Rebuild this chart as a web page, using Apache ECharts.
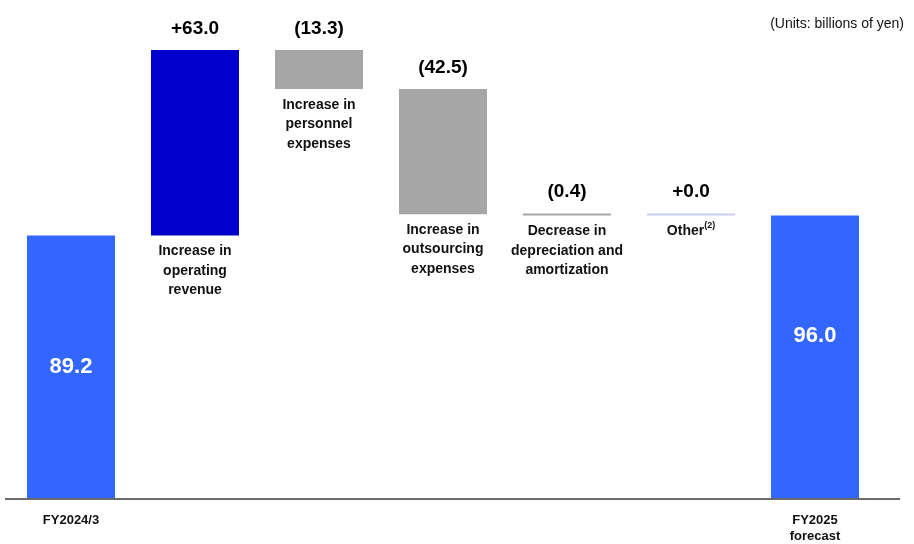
<!DOCTYPE html>
<html>
<head>
<meta charset="utf-8">
<script src="https://cdn.jsdelivr.net/npm/echarts@6/dist/echarts.min.js"></script>
<style>
  html, body { margin: 0; padding: 0; background: #fff; }
  #main { width: 914px; height: 544px; }
</style>
</head>
<body>
<div id="main"></div>
<script>
// chart data
const categories = [
  'FY2024/3',
  'Increase in\noperating\nrevenue',
  'Increase in\npersonnel\nexpenses',
  'Increase in\noutsourcing\nexpenses',
  'Decrease in\ndepreciation and\namortization',
  'Other{sup|(2)}',
  'FY2025\nforecast'
];
const startValue = 89.2;
const changes = [63.0, -13.3, -42.5, -0.4, 0.0];
const endValue = 96.0;
const valueLabels = ['89.2', '+63.0', '(13.3)', '(42.5)', '(0.4)', '+0.0', '96.0'];

const TOTAL_COLOR = '#3366FF';
const UP_COLOR = '#0000CC';
const DOWN_COLOR = '#A6A6A6';
const ZERO_COLOR = '#CCCCF2';

// build invisible base + visible step for the waterfall
const baseData = [];
const stepData = [];
let running = startValue;
baseData.push({ value: 0, label: { show: false } });
stepData.push({ value: startValue, itemStyle: { color: TOTAL_COLOR } });
changes.forEach(function (c) {
  let base, color;
  if (c > 0) {
    base = running; color = UP_COLOR;
  } else if (c < 0) {
    base = running + c; color = DOWN_COLOR;
  } else {
    base = running; color = ZERO_COLOR;
  }
  running += c;
  baseData.push({ value: base });
  stepData.push({ value: Math.abs(c), itemStyle: { color: color } });
});
baseData.push({ value: 0, label: { show: false } });
stepData.push({ value: endValue, itemStyle: { color: TOTAL_COLOR } });

const last = categories.length - 1;
stepData[0].label = { position: 'inside', color: '#fff', fontSize: 22 };
stepData[last].label = { position: 'inside', color: '#fff', fontSize: 22, offset: [0, -21] };

const chart = echarts.init(document.getElementById('main'));
chart.setOption({
  animation: false,
  textStyle: { fontFamily: 'Liberation Sans, Arial, sans-serif' },
  title: {
    text: '(Units: billions of yen)',
    right: 5,
    top: 12,
    textStyle: { fontSize: 14, fontWeight: 'normal', color: '#111' }
  },
  grid: { left: 9, right: 37, top: 27, bottom: 45 },
  xAxis: {
    type: 'category',
    data: categories,
    axisLine: { show: false },
    axisTick: { show: false },
    axisLabel: {
      interval: 0,
      margin: 14,
      fontSize: 13,
      fontWeight: 'bold',
      lineHeight: 16,
      color: '#111',
      formatter: function (v, i) {
        return (i === 0 || i === last) ? v : '';
      }
    }
  },
  yAxis: {
    type: 'value',
    min: 0,
    max: 160,
    show: false,
    splitLine: { show: false }
  },
  graphic: [{
    type: 'line',
    shape: { x1: 5, y1: 499, x2: 900, y2: 499 },
    style: { stroke: '#3a3a3a', lineWidth: 1.5 },
    z: 10
  }],
  series: [
    {
      name: 'base',
      type: 'bar',
      stack: 'w',
      barWidth: 88,
      itemStyle: { color: 'transparent' },
      silent: true,
      label: {
        show: true,
        position: 'insideTop',
        distance: 6,
        fontSize: 14,
        fontWeight: 'bold',
        lineHeight: 19.5,
        color: '#111',
        formatter: function (p) { return categories[p.dataIndex]; },
        rich: {
          sup: { fontSize: 9, fontWeight: 'bold', verticalAlign: 'top', lineHeight: 12, color: '#111' }
        }
      },
      data: baseData
    },
    {
      name: 'step',
      type: 'bar',
      stack: 'w',
      barWidth: 88,
      barMinHeight: 2,
      label: {
        show: true,
        position: 'top',
        distance: 12,
        fontSize: 19,
        fontWeight: 'bold',
        color: '#000',
        formatter: function (p) { return valueLabels[p.dataIndex]; }
      },
      data: stepData
    }
  ]
});
</script>
</body>
</html>
